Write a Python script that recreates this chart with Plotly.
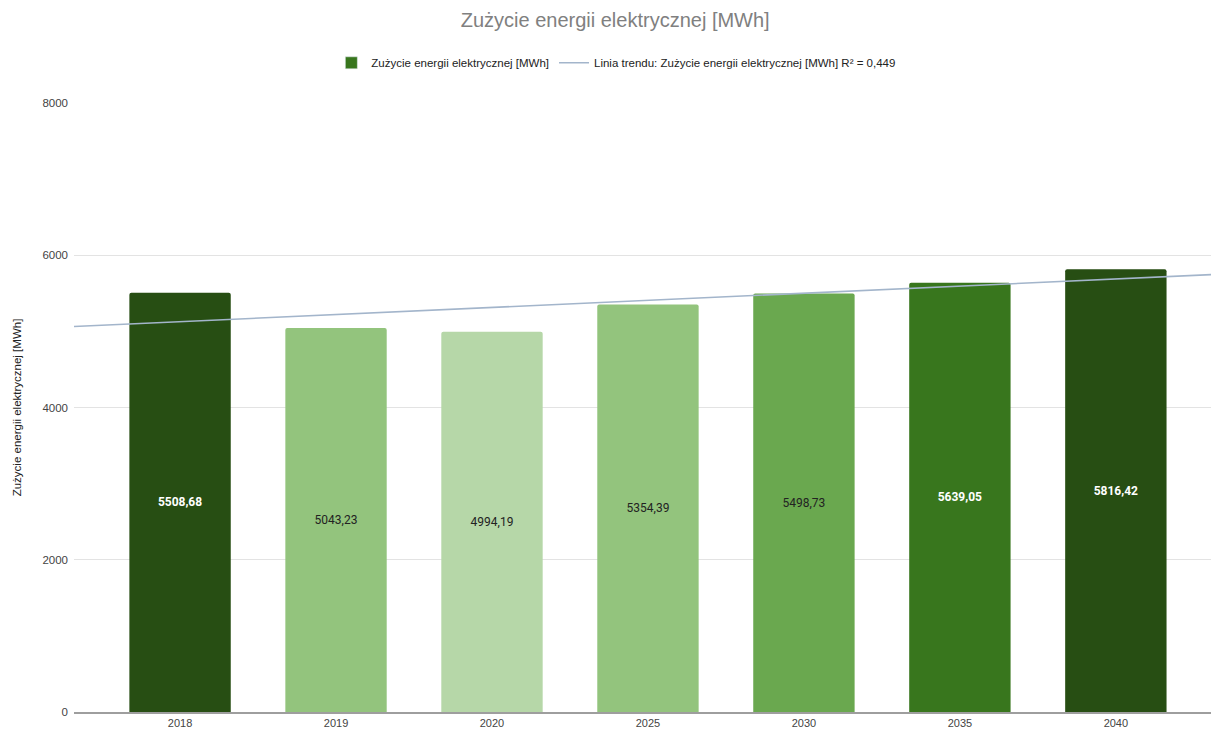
import numpy as np
import plotly.graph_objects as go

categories = ["2018", "2019", "2020", "2025", "2030", "2035", "2040"]
values = [5508.68, 5043.23, 4994.19, 5354.39, 5498.73, 5639.05, 5816.42]
bar_colors = ["#274e13", "#93c47d", "#b6d7a8", "#93c47d", "#6aa84f", "#38761d", "#274e13"]
label_colors = ["#ffffff", "#222222", "#222222", "#222222", "#222222", "#ffffff", "#ffffff"]
label_bold = [True, False, False, False, False, True, True]
series_name = "Zużycie energii elektrycznej [MWh]"
trend_name = "Linia trendu: Zużycie energii elektrycznej [MWh] R² = 0,449"
y_ticks = [0, 2000, 4000, 6000, 8000]

idx = np.arange(len(categories))
x_range = [-0.68, 6.61]

labels = []
for v, b in zip(values, label_bold):
    s = f"{v:.2f}".replace(".", ",")
    labels.append(f"<b>{s}</b>" if b else s)

slope, intercept = np.polyfit(idx, values, 1)
trend_x = np.array(x_range)
trend_y = slope * trend_x + intercept

fig = go.Figure()
fig.add_trace(go.Bar(
    x=idx, y=values, width=0.65,
    marker=dict(color=bar_colors, line=dict(width=0), cornerradius=2),
    text=labels, textposition="inside", insidetextanchor="middle",
    textfont=dict(color=label_colors, size=12, family="Roboto, Arial, sans-serif"),
    textangle=0, showlegend=False, hoverinfo="skip",
))
fig.add_trace(go.Bar(
    x=[None], y=[None], name=series_name, marker=dict(color="#38761d"),
    showlegend=True,
))
fig.add_trace(go.Scatter(
    x=trend_x, y=trend_y, mode="lines", name=trend_name,
    line=dict(color="#a3b5cb", width=1.6), hoverinfo="skip",
))

fig.update_layout(
    width=1211, height=729,
    margin=dict(l=74, r=0, t=103, b=17),
    paper_bgcolor="white", plot_bgcolor="white",
    font=dict(family="Arial, Liberation Sans, sans-serif", color="#222222", size=11),
    title=dict(text=series_name, x=0.508, xanchor="center", y=0.972, yanchor="middle",
               font=dict(size=20, color="#808080")),
    legend=dict(orientation="h", x=0.477, xanchor="center", y=1.066, yanchor="middle",
                font=dict(size=11.5, color="#222222"), itemwidth=30, traceorder="normal"),
    bargap=0.35,
)
fig.update_xaxes(
    range=x_range, tickvals=idx, ticktext=categories, showgrid=False,
    showline=True, linecolor="#9e9e9e", linewidth=2, ticks="", automargin=False,
    tickfont=dict(size=11, color="#444444"), zeroline=False,
)
fig.update_yaxes(
    range=[0, 8000], tickvals=y_ticks, showgrid=True, gridcolor="#e3e3e3", gridwidth=1,
    zeroline=False, showline=False, ticks="", automargin=False,
    tickfont=dict(size=11.5, color="#444444"), ticklabelstandoff=5,
    title=dict(text=series_name, font=dict(size=11.5, color="#222222"), standoff=18),
)
fig.write_html("out.html", config={"displayModeBar": False},
               post_script="document.body.style.margin='0';")
